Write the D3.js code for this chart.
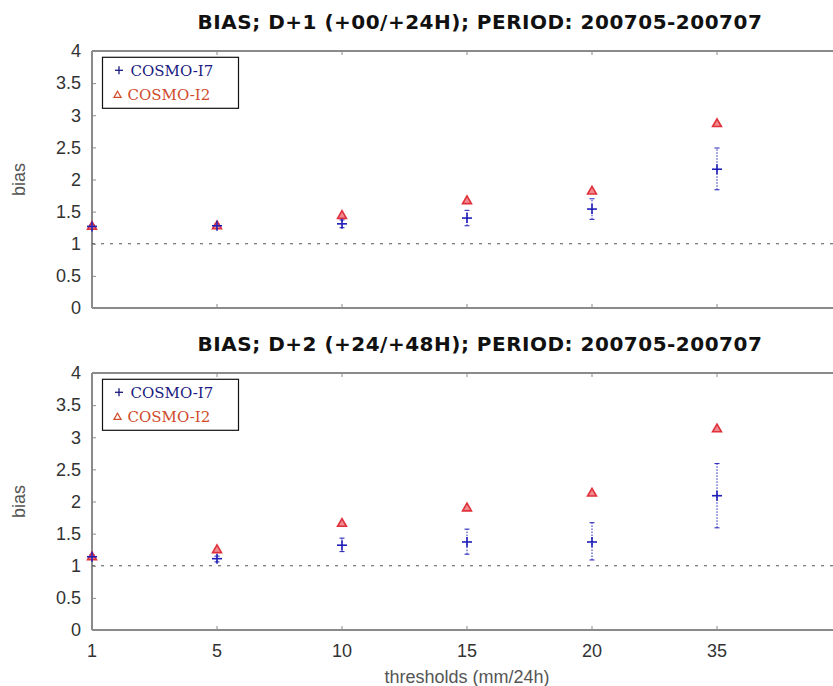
<!DOCTYPE html>
<html>
<head>
<meta charset="utf-8">
<script src="https://cdn.jsdelivr.net/npm/d3@7"></script>
<style>
  html, body { margin: 0; padding: 0; background: #fff; }
  svg { display: block; }
</style>
</head>
<body>
<svg id="chart" width="833" height="686"></svg>
<script>
// Precipitation thresholds (mm/24h)
const thresholds = ["1", "5", "10", "15", "20", "35"];
const yTicks = [0, 0.5, 1, 1.5, 2, 2.5, 3, 3.5, 4];
const seriesNames = ["COSMO-I7", "COSMO-I2"];

// D+1 (+00/+24H)
const d1Title = "BIAS; D+1 (+00/+24H); PERIOD: 200705-200707";
const d1I7 = [1.27, 1.28, 1.31, 1.40, 1.54, 2.16];
const d1I7Low = [1.24, 1.25, 1.25, 1.28, 1.38, 1.84];
const d1I7High = [1.30, 1.31, 1.37, 1.52, 1.70, 2.49];
const d1I2 = [1.28, 1.29, 1.45, 1.68, 1.83, 2.88];

// D+2 (+24/+48H)
const d2Title = "BIAS; D+2 (+24/+48H); PERIOD: 200705-200707";
const d2I7 = [1.14, 1.11, 1.32, 1.37, 1.37, 2.09];
const d2I7Low = [1.11, 1.06, 1.22, 1.18, 1.09, 1.59];
const d2I7High = [1.17, 1.15, 1.43, 1.57, 1.67, 2.59];
const d2I2 = [1.15, 1.26, 1.67, 1.91, 2.14, 3.14];

const svg = d3.select("#chart");
const left = 92, right = 842;
const axisColor = "#8a8a8a";
const blue = "#2020b8";
const red = "#e0303a";
const sans = "Liberation Sans, Arial, sans-serif";

const x = d3.scaleLinear().domain([0, 6]).range([left, right]);

function panel(cfg) {
  const y = d3.scaleLinear().domain([0, 4]).range([cfg.bottom, cfg.top]);
  const g = svg.append("g");

  // Title
  g.append("text")
    .attr("x", 480).attr("y", cfg.top - 22)
    .attr("text-anchor", "middle")
    .attr("font-family", "DejaVu Sans, Verdana, sans-serif")
    .attr("font-weight", "bold")
    .attr("font-size", 20)
    .attr("letter-spacing", 0.5)
    .attr("fill", "#111")
    .text(cfg.title);

  // Frame (top and bottom lines, left axis)
  g.append("line").attr("x1", left).attr("x2", 833).attr("y1", y(4)).attr("y2", y(4))
    .attr("stroke", axisColor).attr("stroke-width", 2);
  g.append("line").attr("x1", left).attr("x2", 833).attr("y1", y(0)).attr("y2", y(0))
    .attr("stroke", axisColor).attr("stroke-width", 2);
  g.append("line").attr("x1", left).attr("x2", left).attr("y1", y(0)).attr("y2", y(4))
    .attr("stroke", axisColor).attr("stroke-width", 2);

  // Y axis ticks and labels
  const yAxis = d3.axisLeft(y).tickValues(yTicks).tickSize(-4).tickPadding(11)
    .tickFormat(d => d3.format("")(d));
  const ya = g.append("g").attr("transform", `translate(${left},0)`).call(yAxis);
  ya.select(".domain").remove();
  ya.selectAll("line").attr("stroke", axisColor);
  ya.selectAll("text").attr("font-family", sans)
    .attr("font-size", 18).attr("fill", "#333");

  // X ticks (inward, top and bottom)
  const idx = d3.range(thresholds.length);
  g.selectAll(".xtb").data(idx).enter().append("line")
    .attr("x1", d => x(d)).attr("x2", d => x(d))
    .attr("y1", y(0)).attr("y2", y(0) - 4).attr("stroke", axisColor);
  g.selectAll(".xtt").data(idx).enter().append("line")
    .attr("x1", d => x(d)).attr("x2", d => x(d))
    .attr("y1", y(4)).attr("y2", y(4) + 4).attr("stroke", axisColor);

  if (cfg.xLabels) {
    g.selectAll(".xl").data(idx).enter().append("text")
      .attr("x", d => x(d)).attr("y", y(0) + 26.5)
      .attr("text-anchor", "middle")
      .attr("font-family", sans)
      .attr("font-size", 18).attr("fill", "#333")
      .text(d => thresholds[d]);
    g.append("text")
      .attr("x", x(3)).attr("y", y(0) + 53)
      .attr("text-anchor", "middle")
      .attr("font-family", sans)
      .attr("font-size", 18).attr("fill", "#555")
      .text("thresholds (mm/24h)");
  }

  // Y label
  g.append("text")
    .attr("transform", `translate(25,${(y(0) + y(4)) / 2}) rotate(-90)`)
    .attr("text-anchor", "middle")
    .attr("font-family", sans)
    .attr("font-size", 18).attr("fill", "#555")
    .text("bias");

  // Reference line at bias = 1
  g.append("line").attr("x1", left).attr("x2", 833)
    .attr("y1", y(1)).attr("y2", y(1))
    .attr("stroke", "#555").attr("stroke-width", 1)
    .attr("stroke-dasharray", "3,6");

  // Error bars for COSMO-I7
  const eb = g.selectAll(".eb").data(idx).enter().append("g");
  eb.append("line")
    .attr("x1", d => x(d)).attr("x2", d => x(d))
    .attr("y1", d => y(cfg.low[d])).attr("y2", d => y(cfg.high[d]))
    .attr("stroke", blue).attr("stroke-width", 1).attr("stroke-dasharray", "1.5,1.5");
  eb.append("line")
    .attr("x1", d => x(d) - 2.5).attr("x2", d => x(d) + 2.5)
    .attr("y1", d => y(cfg.low[d])).attr("y2", d => y(cfg.low[d]))
    .attr("stroke", blue).attr("stroke-width", 1);
  eb.append("line")
    .attr("x1", d => x(d) - 2.5).attr("x2", d => x(d) + 2.5)
    .attr("y1", d => y(cfg.high[d])).attr("y2", d => y(cfg.high[d]))
    .attr("stroke", blue).attr("stroke-width", 1);

  // COSMO-I2 triangles
  const tri = d3.symbol().type(d3.symbolTriangle).size(34);
  g.selectAll(".tri").data(idx).enter().append("path")
    .attr("d", tri)
    .attr("transform", d => `translate(${x(d)},${y(cfg.i2[d]) + 1})`)
    .attr("fill", "#f08a90").attr("stroke", red).attr("stroke-width", 1.6);

  // COSMO-I7 plus markers
  const pl = g.selectAll(".pl").data(idx).enter().append("g")
    .attr("transform", d => `translate(${x(d)},${y(cfg.i7[d])})`);
  pl.append("line").attr("x1", -5).attr("x2", 5).attr("stroke", blue).attr("stroke-width", 1.6);
  pl.append("line").attr("y1", -5).attr("y2", 5).attr("stroke", blue).attr("stroke-width", 1.6);

  // Legend
  const lg = g.append("g").attr("transform", `translate(102.5,${cfg.top + 6.3})`);
  lg.append("rect").attr("width", 136).attr("height", 51)
    .attr("fill", "#fff").attr("stroke", "#111").attr("stroke-width", 1.2);
  const lp = lg.append("g").attr("transform", "translate(16.5,13)");
  lp.append("line").attr("x1", -4).attr("x2", 4).attr("stroke", "#1a1a80").attr("stroke-width", 1.3);
  lp.append("line").attr("y1", -4).attr("y2", 4).attr("stroke", "#1a1a80").attr("stroke-width", 1.3);
  lg.append("text").attr("x", 28).attr("y", 19)
    .attr("font-family", "DejaVu Serif, serif").attr("font-size", 15)
    .attr("fill", "#1a1a80").text(seriesNames[0]);
  lg.append("path")
    .attr("d", d3.symbol().type(d3.symbolTriangle).size(22))
    .attr("transform", "translate(15,38)")
    .attr("fill", "none").attr("stroke", "#d04a2a").attr("stroke-width", 1.2);
  lg.append("text").attr("x", 25).attr("y", 43)
    .attr("font-family", "DejaVu Serif, serif").attr("font-size", 15)
    .attr("fill", "#d04a2a").text(seriesNames[1]);
}

panel({ title: d1Title, top: 51, bottom: 308, i7: d1I7, low: d1I7Low, high: d1I7High, i2: d1I2, xLabels: false });
panel({ title: d2Title, top: 373, bottom: 630, i7: d2I7, low: d2I7Low, high: d2I7High, i2: d2I2, xLabels: true });
</script>
</body>
</html>
